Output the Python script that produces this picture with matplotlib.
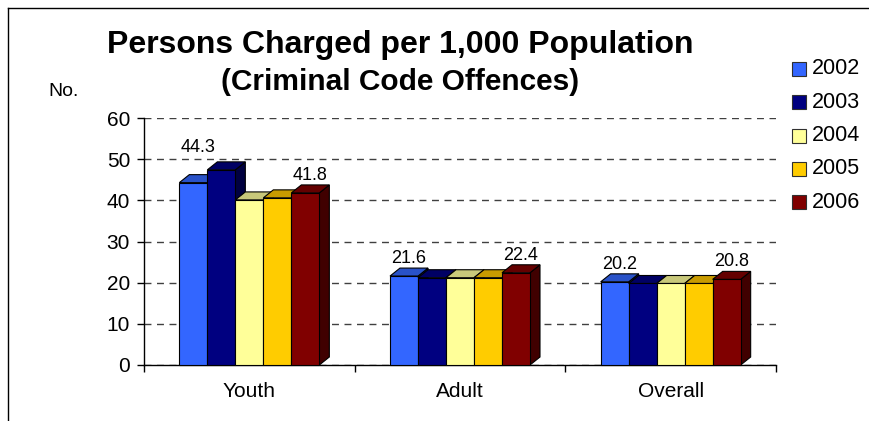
import matplotlib
matplotlib.use("Agg")
import matplotlib.pyplot as plt
from matplotlib.patches import Polygon, Rectangle
from matplotlib.lines import Line2D

plt.rcParams['font.family'] = ['Liberation Sans', 'DejaVu Sans']

# data
categories = ['Youth', 'Adult', 'Overall']
years = ['2002', '2003', '2004', '2005', '2006']
youth = [44.3, 47.4, 40.1, 40.6, 41.8]
adult = [21.6, 21.2, 21.2, 21.2, 22.4]
overall = [20.2, 19.8, 19.8, 19.8, 20.8]
labelled_years = ['2002', '2006']

series = [youth, adult, overall]

# colours: front, top, side
front_cols = ['#3366FF', '#000080', '#FFFF99', '#FFCC00', '#800000']
top_cols = ['#2952C8', '#000064', '#C8C87A', '#C89B00', '#640000']
side_cols = ['#1A3380', '#000040', '#80804C', '#806600', '#400000']

W, H = 870, 421
fig = plt.figure(figsize=(W / 100, H / 100), dpi=100)

# plot area (pixels from the reference)
ax_l, ax_r, ax_b, ax_t = 144, 776, 365, 118
ax = fig.add_axes([ax_l / W, 1 - ax_b / H, (ax_r - ax_l) / W, (ax_b - ax_t) / H])
ax.set_xlim(-0.5, 2.5)
ax.set_ylim(0, 60)

# 3d depth in data units
px_x = (ax_r - ax_l) / 3.0
px_y = (ax_b - ax_t) / 60.0
dx = 10 / px_x
dy = 8 / px_y
bar_w = 28 / px_x

for i, cat in enumerate(categories):
    for j, yr in enumerate(years):
        v = series[i][j]
        x0 = i - 2.5 * bar_w + j * bar_w
        z = 3 + j
        side = Polygon([(x0 + bar_w, 0), (x0 + bar_w + dx, dy), (x0 + bar_w + dx, v + dy), (x0 + bar_w, v)],
                       closed=True, facecolor=side_cols[j], edgecolor='black', lw=0.8, zorder=z, clip_on=False)
        top = Polygon([(x0, v), (x0 + bar_w, v), (x0 + bar_w + dx, v + dy), (x0 + dx, v + dy)],
                      closed=True, facecolor=top_cols[j], edgecolor='black', lw=0.8, zorder=z, clip_on=False)
        front = Rectangle((x0, 0), bar_w, v, facecolor=front_cols[j], edgecolor='black', lw=0.8,
                          zorder=z, clip_on=False)
        ax.add_patch(side)
        ax.add_patch(top)
        ax.add_patch(front)
        if yr in labelled_years:
            lift = 2.3
            # label pushed up so it clears the taller 2003 bar
            if i == 0 and j == 0:
                lift = 6.5
            ax.text(x0 + bar_w / 2 + dx / 2, v + dy + lift, f'{v:.1f}', ha='center', va='center',
                    fontsize=13, zorder=20)

# grid and axes
ax.set_yticks(range(0, 61, 10))
ax.yaxis.grid(True, linestyle=(0, (5, 4)), color='#404040', lw=1)
ax.set_axisbelow(True)
for s in ['top', 'right']:
    ax.spines[s].set_visible(False)
ax.spines['left'].set_linewidth(1)
ax.spines['bottom'].set_linewidth(1)
ax.tick_params(axis='y', direction='out', length=5, width=1, pad=5, labelsize=15)
ax.set_xticks(range(len(categories)))
ax.set_xticklabels(categories)
ax.set_xticks([-0.5, 0.5, 1.5, 2.5], minor=True)
ax.tick_params(axis='x', which='major', length=0, pad=12, labelsize=15)
ax.tick_params(axis='x', which='minor', direction='out', length=5, width=1)

# titles
fig.text(400 / W, 1 - 45 / H, 'Persons Charged per 1,000 Population', ha='center', va='center',
         fontsize=23, fontweight='bold')
fig.text(400 / W, 1 - 82 / H, '(Criminal Code Offences)', ha='center', va='center',
         fontsize=21.5, fontweight='bold')
fig.text(48 / W, 1 - 92 / H, 'No.', ha='left', va='center', fontsize=14)

# legend drawn by hand
for k, yr in enumerate(years):
    yc = 69 + k * 33.3
    fig.add_artist(Rectangle((792 / W, 1 - (yc + 7) / H), 14 / W, 14 / H, transform=fig.transFigure,
                             facecolor=front_cols[k], edgecolor='#303030', lw=0.8))
    fig.text(812 / W, 1 - yc / H, yr, ha='left', va='center', fontsize=15.5)

# outer frame (top and left edges)
fig.add_artist(Line2D([8 / W, 1], [1 - 8 / H, 1 - 8 / H], transform=fig.transFigure, color='black', lw=1))
fig.add_artist(Line2D([8 / W, 8 / W], [0, 1 - 8 / H], transform=fig.transFigure, color='black', lw=1))

fig.savefig('out.png', dpi=100)
